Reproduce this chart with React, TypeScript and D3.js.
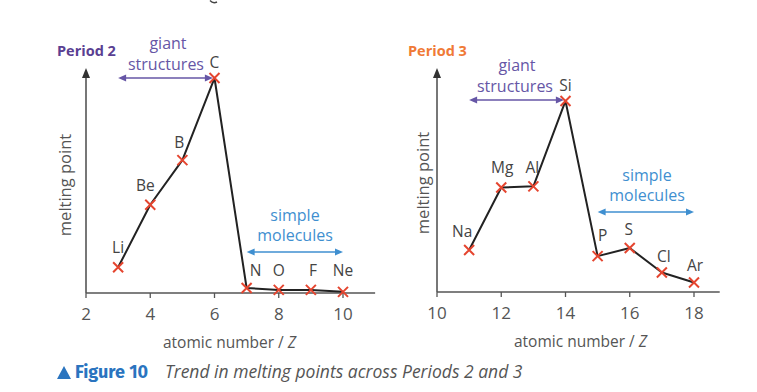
import * as d3 from "d3";
import { useEffect, useRef } from "react";

// Period 2
const p2Z = [3, 4, 5, 6, 7, 8, 9, 10];
const p2Symbols = ["Li", "Be", "B", "C", "N", "O", "F", "Ne"];
const p2Melt = [454, 1560, 2349, 3800, 88, 55, 55, 20];
const p2Ticks = [2, 4, 6, 8, 10];

// Period 3
const p3Z = [11, 12, 13, 14, 15, 16, 17, 18];
const p3Symbols = ["Na", "Mg", "Al", "Si", "P", "S", "Cl", "Ar"];
const p3Melt = [371, 923, 933, 1687, 317, 388, 172, 84];
const p3Ticks = [10, 12, 14, 16, 18];

// label nudges (px) relative to each point
const p2LabelOffsets = [[0, -20], [-5, -20], [-3, -18], [0, -16], [9, -18], [0, -20], [2, -20], [0, -22]];
const p3LabelOffsets = [[-7, -19], [1, -20], [-1, -19], [0, -16], [5, -21], [-1, -19], [2, -17], [1, -17]];

const FONT = "'Open Sans', 'Noto Sans', sans-serif";
const GREY = "#555";
const PURPLE = "#6656a6";
const BLUE = "#3f8fd0";
const RED = "#e5452f";

interface PanelCfg {
  title: string;
  titleColor: string;
  titleX: number;
  z: number[];
  symbols: string[];
  melt: number[];
  ticks: number[];
  offsets: number[][];
  xDomain: [number, number];
  xRange: [number, number];
  xEnd: number;
  yTopValue: number;
  yRange: [number, number];
  giant: [number, number, number]; // zFrom, zTo, y px
  giantText: [number, number];
  simple: [number, number, number];
  simpleText: [number, number];
  yLabel: [number, number];
}

const panels: PanelCfg[] = [
  {
    title: "Period 2", titleColor: "#5a3f92", titleX: 57,
    z: p2Z, symbols: p2Symbols, melt: p2Melt, ticks: p2Ticks, offsets: p2LabelOffsets,
    xDomain: [2, 10], xRange: [86, 343], xEnd: 11,
    yTopValue: 3977, yRange: [293, 68],
    giant: [3, 5.95, 78], giantText: [168, 43],
    simple: [7, 10, 252], simpleText: [295, 215],
    yLabel: [64, 185],
  },
  {
    title: "Period 3", titleColor: "#f07a36", titleX: 408,
    z: p3Z, symbols: p3Symbols, melt: p3Melt, ticks: p3Ticks, offsets: p3LabelOffsets,
    xDomain: [10, 18], xRange: [437, 694], xEnd: 18.8,
    yTopValue: 1978, yRange: [292, 68],
    giant: [11, 13.95, 100], giantText: [517, 65],
    simple: [15, 18, 212], simpleText: [647, 175],
    yLabel: [422, 183],
  },
];

function doubleArrow(
  g: d3.Selection<SVGGElement, unknown, null, undefined>,
  x1: number, x2: number, y: number, color: string
) {
  const h = 8, w = 3.5;
  g.append("line")
    .attr("x1", x1 + h - 1).attr("x2", x2 - h + 1)
    .attr("y1", y).attr("y2", y)
    .attr("stroke", color).attr("stroke-width", 1.6);
  g.append("path")
    .attr("d", `M${x1},${y}L${x1 + h},${y - w}L${x1 + h},${y + w}Z`)
    .attr("fill", color);
  g.append("path")
    .attr("d", `M${x2},${y}L${x2 - h},${y - w}L${x2 - h},${y + w}Z`)
    .attr("fill", color);
}

const App = () => {
  const svgRef = useRef<SVGSVGElement>(null);

  useEffect(() => {
    const svgEl = svgRef.current;
    if (!svgEl) return;
    const svg = d3.select(svgEl);
    svg.selectAll("*").remove();

    // descender of a heading cropped off above the figure
    svg.append("path")
      .attr("d", "M210,0.5Q213,4 217,2")
      .attr("fill", "none").attr("stroke", "#444").attr("stroke-width", 1.4);

    panels.forEach((p) => {
      const g = svg.append("g");
      const x = d3.scaleLinear().domain(p.xDomain).range(p.xRange);
      const y = d3.scaleLinear().domain([0, p.yTopValue]).range(p.yRange);
      const x0 = x(p.xDomain[0]);
      const y0 = y(0);

      // axes
      g.append("line")
        .attr("x1", x0).attr("x2", x(p.xEnd))
        .attr("y1", y0).attr("y2", y0)
        .attr("stroke", GREY).attr("stroke-width", 1.6);
      g.append("line")
        .attr("x1", x0).attr("x2", x0)
        .attr("y1", y0).attr("y2", y(p.yTopValue) + 6)
        .attr("stroke", GREY).attr("stroke-width", 1.6);
      const yt = y(p.yTopValue);
      g.append("path")
        .attr("d", `M${x0},${yt}L${x0 - 4},${yt + 10}L${x0 + 4},${yt + 10}Z`)
        .attr("fill", "#333");

      // ticks
      p.ticks.forEach((t) => {
        g.append("line")
          .attr("x1", x(t)).attr("x2", x(t))
          .attr("y1", y0).attr("y2", y0 + 5)
          .attr("stroke", GREY).attr("stroke-width", 1.3);
        g.append("text")
          .attr("x", x(t)).attr("y", y0 + 27)
          .attr("text-anchor", "middle")
          .attr("font-family", FONT).attr("font-size", 17)
          .attr("fill", "#555").text(String(t));
      });

      // axis titles
      const xt = g.append("text")
        .attr("x", (x(p.xDomain[0]) + x(p.xDomain[1])) / 2 + 15).attr("y", y0 + 55)
        .attr("text-anchor", "middle")
        .attr("font-family", FONT).attr("font-size", 15.5).attr("fill", "#555");
      xt.append("tspan").text("atomic number / ");
      xt.append("tspan").attr("font-style", "italic").text("Z");

      g.append("text")
        .attr("transform", `translate(${p.yLabel[0]},${p.yLabel[1]}) rotate(-90)`)
        .attr("text-anchor", "middle").attr("dominant-baseline", "central")
        .attr("font-family", FONT).attr("font-size", 16.5).attr("fill", "#555")
        .text("melting point");

      // title
      g.append("text")
        .attr("x", p.titleX).attr("y", 56)
        .attr("font-family", FONT).attr("font-size", 14.5).attr("font-weight", 700)
        .attr("fill", p.titleColor).text(p.title);

      // annotations
      g.append("text")
        .attr("x", p.giantText[0]).attr("y", p.giantText[1])
        .attr("text-anchor", "middle").attr("dominant-baseline", "central")
        .attr("font-family", FONT).attr("font-size", 16).attr("fill", PURPLE)
        .text("giant");
      g.append("text")
        .attr("x", p.giantText[0] - 2).attr("y", p.giantText[1] + 21)
        .attr("text-anchor", "middle").attr("dominant-baseline", "central")
        .attr("font-family", FONT).attr("font-size", 16).attr("fill", PURPLE)
        .text("structures");
      doubleArrow(g, x(p.giant[0]), x(p.giant[1]), p.giant[2], PURPLE);

      g.append("text")
        .attr("x", p.simpleText[0]).attr("y", p.simpleText[1])
        .attr("text-anchor", "middle").attr("dominant-baseline", "central")
        .attr("font-family", FONT).attr("font-size", 16).attr("fill", BLUE)
        .text("simple");
      g.append("text")
        .attr("x", p.simpleText[0]).attr("y", p.simpleText[1] + 20)
        .attr("text-anchor", "middle").attr("dominant-baseline", "central")
        .attr("font-family", FONT).attr("font-size", 16).attr("fill", BLUE)
        .text("molecules");
      doubleArrow(g, x(p.simple[0]), x(p.simple[1]), p.simple[2], BLUE);

      // line
      const pts: [number, number][] = p.z.map((z, i) => [z, p.melt[i]]);
      const line = d3.line<[number, number]>().x((d) => x(d[0])).y((d) => y(d[1]));
      g.append("path")
        .attr("d", line(pts) ?? "")
        .attr("fill", "none").attr("stroke", "#222").attr("stroke-width", 2)
        .attr("stroke-linejoin", "round");

      // markers
      const s = 5;
      pts.forEach(([z, m]) => {
        const cx = x(z), cy = y(m);
        g.append("path")
          .attr("d", `M${cx - s},${cy - s}L${cx + s},${cy + s}M${cx - s},${cy + s}L${cx + s},${cy - s}`)
          .attr("stroke", RED).attr("stroke-width", 2);
      });

      // point labels
      pts.forEach(([z, m], i) => {
        const [dx, dy] = p.offsets[i];
        g.append("text")
          .attr("x", x(z) + dx).attr("y", y(m) + dy)
          .attr("text-anchor", "middle").attr("dominant-baseline", "central")
          .attr("font-family", FONT).attr("font-size", 15.5).attr("fill", "#444")
          .text(p.symbols[i]);
      });
    });

    // caption
    svg.append("path").attr("d", "M57,379L64,366L71,379Z").attr("fill", "#2a74bf");
    svg.append("text").attr("x", 75).attr("y", 378)
      .attr("font-family", "'Fira Sans', 'Open Sans', sans-serif").attr("font-size", 18)
      .attr("font-weight", 700).attr("fill", "#2a74bf").text("Figure 10");
    svg.append("text").attr("x", 165).attr("y", 378)
      .attr("font-family", FONT).attr("font-size", 17.5).attr("font-style", "italic")
      .attr("fill", "#555").text("Trend in melting points across Periods 2 and 3");
  }, []);

  return (
    <svg
      ref={svgRef}
      width={757}
      height={392}
      style={{ position: "absolute", left: 0, top: 0, background: "#fff" }}
    />
  );
};

export default App;
